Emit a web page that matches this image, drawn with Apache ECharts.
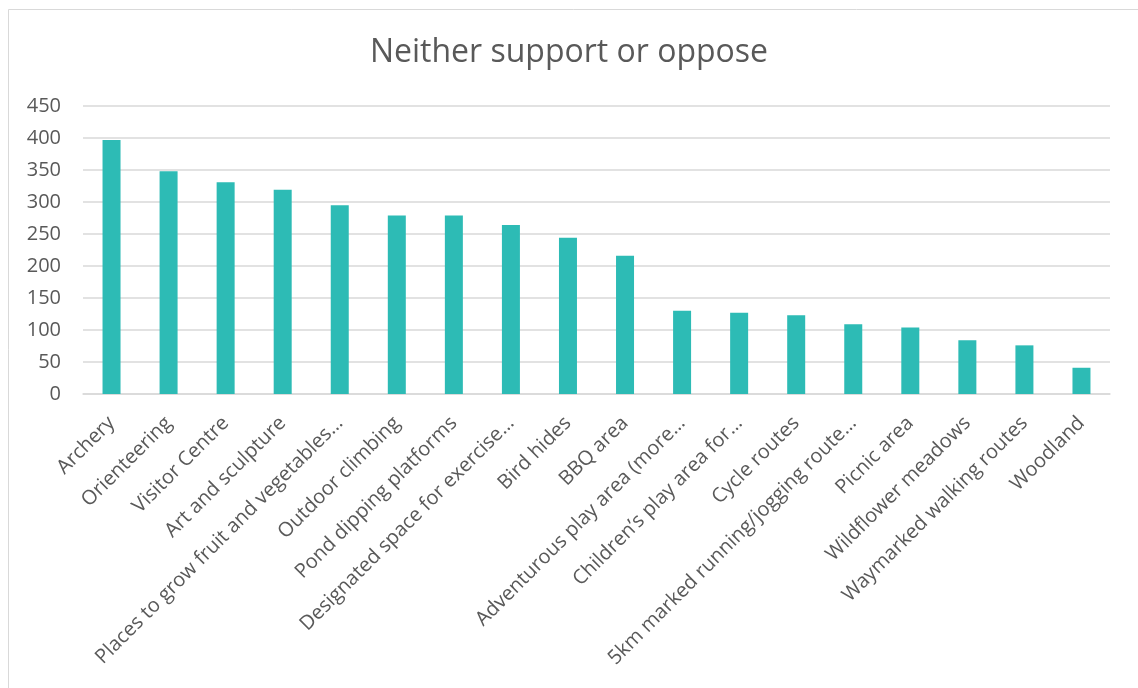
<!DOCTYPE html>
<html>
<head>
<meta charset="utf-8">
<script src="https://cdn.jsdelivr.net/npm/echarts@6/dist/echarts.min.js"></script>
<style>html,body{margin:0;padding:0;background:#fff;}#c{width:1138px;height:688px;}</style>
</head>
<body>
<div id="c"></div>
<script>
const titleText = "Neither support or oppose";
const categories = [
  "Archery", "Orienteering", "Visitor Centre", "Art and sculpture",
  "Places to grow fruit and vegetables…", "Outdoor climbing", "Pond dipping platforms",
  "Designated space for exercise…", "Bird hides", "BBQ area",
  "Adventurous play area (more…", "Children’s play area for…", "Cycle routes",
  "5km marked running/jogging route…", "Picnic area", "Wildflower meadows",
  "Waymarked walking routes", "Woodland"
];
const values = [397, 348, 331, 319, 295, 279, 279, 264, 244, 216, 130, 127, 123, 109, 104, 84, 76, 41];
const yTicks = { min: 0, max: 450, interval: 50 };

const chart = echarts.init(document.getElementById('c'));
chart.setOption({
  animation: false,
  backgroundColor: '#ffffff',
  graphic: [{
    type: 'rect', left: 6, top: 7,
    shape: { width: 1140, height: 690 },
    style: { fill: 'none', stroke: '#d9d9d9', lineWidth: 1 }
  }],
  title: {
    text: titleText, left: 'center', top: 32,
    textStyle: { fontFamily: 'Open Sans', fontSize: 32, fontWeight: 'normal', color: '#595959' }
  },
  grid: { left: 83, right: 28, top: 106, bottom: 294, containLabel: false },
  xAxis: {
    type: 'category', data: categories,
    axisLine: { lineStyle: { color: '#d9d9d9', width: 1.5 } },
    axisTick: { show: false },
    axisLabel: { rotate: 45, interval: 0, margin: 26, color: '#595959', fontFamily: 'Open Sans', fontSize: 20 }
  },
  yAxis: {
    type: 'value', min: yTicks.min, max: yTicks.max, interval: yTicks.interval,
    axisLine: { show: false }, axisTick: { show: false },
    splitLine: { lineStyle: { color: '#d9d9d9', width: 1.5 } },
    axisLabel: { margin: 22, color: '#595959', fontFamily: 'Open Sans', fontSize: 20 }
  },
  series: [{
    type: 'bar', data: values, barWidth: 18,
    itemStyle: { color: '#2dbbb5' }
  }]
});
</script>
</body>
</html>
